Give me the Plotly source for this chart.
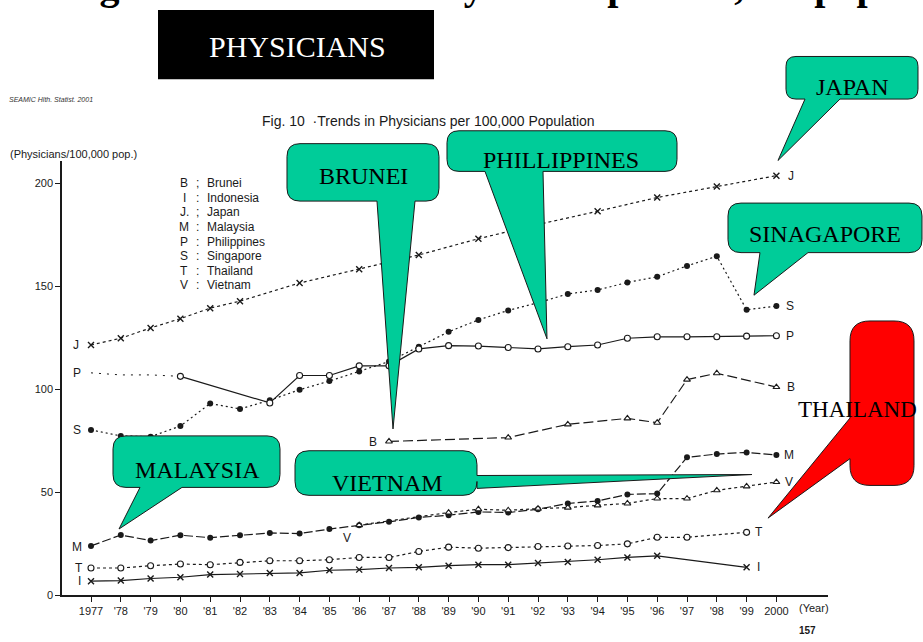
import plotly.graph_objects as go

W, H = 923, 642

# ---------------- data ----------------
years = list(range(1977, 2001))
tick_text = ["1977", "'78", "'79", "'80", "'81", "'82", "'83", "'84", "'85", "'86", "'87", "'88",
             "'89", "'90", "'91", "'92", "'93", "'94", "'95", "'96", "'97", "'98", "'99", "2000"]

japan = [121.5, 124.8, 129.8, 134.3, 139.4, 142.8, None, 151.6, None, 158.3, None, 165.2,
         None, 173.1, None, 180.0, None, 186.4, None, 193.1, None, 198.4, None, 203.7]
singapore = [80.3, 77.4, 77.0, 82.2, 93.1, 90.5, 94.7, 99.8, 104.0, 108.7, 113.5, 120.7,
             127.9, 133.7, 138.3, 142.0, 146.3, 148.2, 151.9, 154.6, 159.9, 164.6, 138.6, 140.4]
philippines = [108.0, 107.0, 107.0, 106.3, None, None, 93.4, 106.7, 106.7, 111.4, 111.4, 119.6,
               121.2, 121.0, 120.3, 119.6, 120.7, 121.5, 124.8, 125.5, 125.5, 125.5, 125.8, 126.0]
brunei = [None] * 10 + [74.7, None, None, None, 76.6, None, 83.0, None, 85.9, 83.8, 104.7, 107.8, None, 101.1]
malaysia = [24.0, 29.3, 26.6, 29.2, 28.0, 29.2, 30.3, 30.0, 32.2, 34.0, 35.7, 37.8,
            38.9, 40.5, 40.2, 41.8, 44.6, 45.8, 49.0, 49.4, 67.0, 68.6, 69.4, 68.1]
vietnam = [None] * 9 + [34.1, None, None, 40.2, 41.8, 41.3, 42.1, 42.6, 43.7, 44.6, 47.0, 47.0, 51.0, 52.9, 55.0]
thailand = [13.3, 13.3, 14.4, 15.2, 14.9, 16.0, 16.8, 16.8, 17.3, 18.4, 18.4, 21.3,
            23.4, 22.9, 23.2, 23.7, 24.0, 24.2, 25.0, 28.2, 28.2, None, 30.6, None]
indonesia = [6.9, 7.2, 8.2, 8.8, 10.1, 10.4, 10.9, 10.9, 12.2, 12.5, 13.3, 13.6,
             14.4, 14.9, 14.9, 15.7, 16.2, 17.3, 18.4, 19.2, None, None, 13.6, None]

legend_codes = ["B", "I", "J.", "M", "P", "S", "T", "V"]
legend_seps = [";", ":", ";", ":", ":", ":", ":", ":"]
legend_names = ["Brunei", "Indonesia", "Japan", "Malaysia", "Philippines", "Singapore", "Thailand", "Vietnam"]

INK = "#1a1a1a"
TEAL = "#00CC99"
RED = "#FF0000"
SANS = "Liberation Sans, Arial, sans-serif"
SERIF = "Liberation Serif, Times New Roman, serif"


def X(px):
    return px / W


def Y(py):
    return 1 - py / H


fig = go.Figure()


def add_series(name, xs, ys, symbol, dash, filled=True, size=6, width=1.2, markers=True):
    if symbol.startswith("x"):
        marker = dict(symbol="x-thin", size=size, color=INK, line=dict(width=1.4, color=INK))
    elif filled:
        marker = dict(symbol=symbol, size=size, color=INK, line=dict(width=0))
    else:
        marker = dict(symbol=symbol, size=size, color="white", line=dict(width=1.1, color=INK))
    fig.add_trace(go.Scatter(
        x=xs, y=ys, name=name, mode="lines+markers" if markers else "lines",
        connectgaps=True, marker=marker,
        line=dict(color=INK, width=width, dash=dash), showlegend=False, cliponaxis=False))


add_series("Japan", years, japan, "x", "3px,3px")
add_series("Singapore", years, singapore, "circle", "2px,3px", size=6)
add_series("Philippines early", years[:4], philippines[:4], "circle", "2px,6px", markers=False, width=1)
add_series("Philippines", years[3:], philippines[3:], "circle", "solid", filled=False, size=6)
add_series("Brunei", years, brunei, "triangle-up", "10px,4px", filled=False, size=6)
add_series("Malaysia", years, malaysia, "circle", "9px,3px", size=6)
add_series("Vietnam", years, vietnam, "triangle-up", "3px,3px", filled=False, size=6)
add_series("Thailand", years, thailand, "circle", "3px,3px", filled=False, size=6)
add_series("Indonesia", years, indonesia, "x", "solid")

annotations = []


def first_last(ys):
    idx = [i for i, v in enumerate(ys) if v is not None]
    return idx[0], idx[-1]


def series_label(text, ys, which, xshift, yshift=0):
    f, l = first_last(ys)
    i = f if which == "start" else l
    annotations.append(dict(x=years[i], y=ys[i], xref="x", yref="y", text=text, showarrow=False,
                            xanchor="center", yanchor="middle",
                            xshift=xshift, yshift=yshift, font=dict(family=SANS, size=12, color=INK)))


series_label("J", japan, "start", -15)
series_label("P", philippines, "start", -14)
series_label("S", singapore, "start", -14)
series_label("M", malaysia, "start", -14, -1)
series_label("T", thailand, "start", -12)
series_label("I", indonesia, "start", -12)
series_label("B", brunei, "start", -16, -1)
series_label("V", vietnam, "start", -12, -13)
series_label("J", japan, "end", 15)
series_label("S", singapore, "end", 14)
series_label("P", philippines, "end", 14)
series_label("B", brunei, "end", 15)
series_label("M", malaysia, "end", 13)
series_label("V", vietnam, "end", 13)
series_label("T", thailand, "end", 12)
series_label("I", indonesia, "end", 12)


def ptext(text, x, y, size, xanchor="center", family=SANS, color=INK):
    annotations.append(dict(x=X(x), y=Y(y), xref="paper", yref="paper", text=text, showarrow=False,
                            xanchor=xanchor, yanchor="middle", font=dict(family=family, size=size, color=color)))


# legend block
for k, (c, s, n) in enumerate(zip(legend_codes, legend_seps, legend_names)):
    yy = 185 + k * 14.7
    ptext(c, 184, yy, 12)
    ptext(s, 197, yy, 12)
    ptext(n, 205, yy, 12, "left")

# page texts
ptext("<b>Changes in Numbers of Physicians per 100,000 population</b>", 4, -15, 40, "left", SERIF, "black")
ptext("PHYSICIANS", 297, 47, 30, "center", SERIF, "white")
ptext("<i>SEAMIC Hlth. Statist. 2001</i>", 7, 100, 7, "left", SANS, "#333")
ptext("Fig. 10  \u00b7Trends in Physicians per 100,000 Population", 428, 122, 14)
ptext("(Physicians/100,000 pop.)", 8, 155, 11, "left")
ptext("(Year)", 797, 614, 11, "left")
ptext("<b>157</b>", 807, 636, 10)

shapes = [dict(type="rect", xref="paper", yref="paper", x0=X(158), x1=X(434), y0=Y(80), y1=Y(10),
               fillcolor="black", line=dict(width=0), layer="above")]


def P(x, y):
    return f"{X(x):.5f},{Y(y):.5f}"


def callout(x0, y0, x1, y1, r, side, a, b, tip, fill):
    s = [f"M{P(x0 + r, y0)}", f"L{P(x1 - r, y0)}", f"Q{P(x1, y0)} {P(x1, y0 + r)}"]
    if side == "right":
        s += [f"L{P(x1, a)}", f"L{P(*tip)}", f"L{P(x1, b)}"]
    s += [f"L{P(x1, y1 - r)}", f"Q{P(x1, y1)} {P(x1 - r, y1)}"]
    if side == "bottom":
        s += [f"L{P(b, y1)}", f"L{P(*tip)}", f"L{P(a, y1)}"]
    s += [f"L{P(x0 + r, y1)}", f"Q{P(x0, y1)} {P(x0, y1 - r)}"]
    if side == "left":
        s += [f"L{P(x0, b)}", f"L{P(*tip)}", f"L{P(x0, a)}"]
    s += [f"L{P(x0, y0 + r)}", f"Q{P(x0, y0)} {P(x0 + r, y0)}", "Z"]
    shapes.append(dict(type="path", xref="paper", yref="paper", path=" ".join(s), fillcolor=fill,
                       line=dict(color=INK, width=1), layer="above"))


def ctext(text, x, y, anchor="center", size=24):
    ptext(text, x, y, size, anchor, SERIF, "black")


callout(786, 57, 918, 100, 10, "bottom", 805, 840, (778, 162), TEAL)
ctext("JAPAN", 852, 88)
callout(287, 145, 439, 203, 13, "bottom", 377, 415, (393, 433), TEAL)
ctext("BRUNEI", 363, 178)
callout(447, 132, 677, 173, 12, "bottom", 485, 543, (547, 342), TEAL)
ctext("PHILLIPPINES", 561, 162)
callout(728, 205, 922, 255, 13, "bottom", 760, 808, (754, 298), TEAL)
ctext("SINAGAPORE", 825, 236)
callout(113, 440, 280, 492, 13, "bottom", 140, 182, (119, 534), TEAL)
ctext("MALAYSIA", 197, 474)
callout(295, 455, 477, 500, 14, "right", 480, 493, (752, 479), TEAL)
ctext("VIETNAM", 387, 488)
callout(850, 324, 914, 490, 20, "left", 422, 463, (768, 523), RED)
ctext("THAILAND", 857, 413, "center", 23)

# axis geometry (pixels of the reference)
x_left_px, x_right_px = 62, 828
yr_px0, yr_step = 91.0, 29.8
y_bot_px, y_top_px, y_unit = 601, 163, 2.08

fig.update_layout(
    width=W, height=H, autosize=False,
    margin=dict(l=0, r=0, t=0, b=0, pad=0),
    paper_bgcolor="white", plot_bgcolor="white",
    shapes=shapes, annotations=annotations,
    xaxis=dict(domain=[x_left_px / W, x_right_px / W],
               range=[1977 - (yr_px0 - x_left_px) / yr_step, 1977 + (x_right_px - yr_px0) / yr_step],
               tickmode="array", tickvals=years, ticktext=tick_text,
               ticks="outside", ticklen=5, tickwidth=1, tickcolor=INK,
               showline=True, linecolor=INK, linewidth=1.5, showgrid=False, zeroline=False,
               tickfont=dict(family=SANS, size=11, color=INK), fixedrange=True),
    yaxis=dict(domain=[(H - y_bot_px) / H, (H - y_top_px) / H],
               range=[0, (y_bot_px - y_top_px) / y_unit],
               tickmode="array", tickvals=[0, 50, 100, 150, 200],
               ticks="outside", ticklen=5, tickwidth=1, tickcolor=INK,
               showline=True, linecolor=INK, linewidth=1.5, showgrid=False, zeroline=False,
               tickfont=dict(family=SANS, size=11, color=INK), fixedrange=True),
)

page_fix = (
    "var h=document.documentElement,b=document.body;"
    "h.style.margin='0px';h.style.padding='0px';h.style.overflow='hidden';"
    "b.style.margin='0px';b.style.padding='0px';b.style.overflow='hidden';"
)

fig.write_html("out.html", config={"responsive": False, "displayModeBar": False},
               post_script=page_fix)
